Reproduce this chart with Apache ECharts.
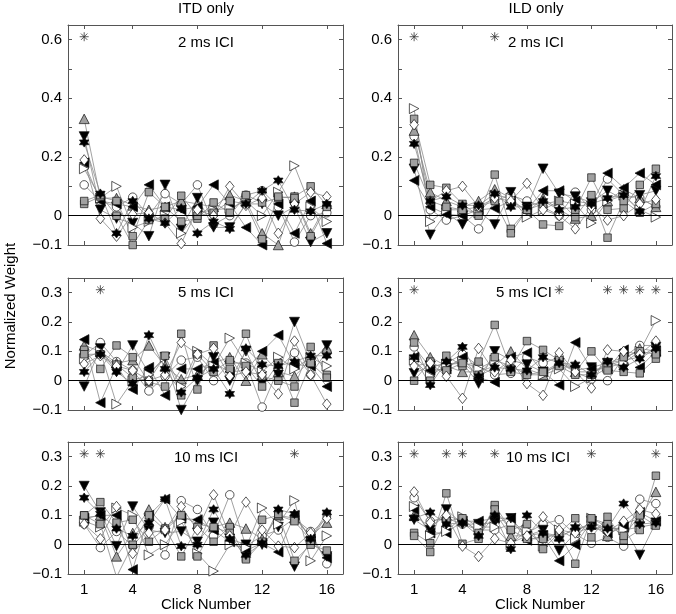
<!DOCTYPE html>
<html><head><meta charset="utf-8">
<script src="https://cdn.jsdelivr.net/npm/echarts@6/dist/echarts.min.js"></script>
<style>html,body{margin:0;padding:0;background:#fff}#c{width:676px;height:614px}</style>
</head><body><div id="c"></div>
<script>
// ---------- data ----------
const clicks = [1,2,3,4,5,6,7,8,9,10,11,12,13,14,15,16];
const xTicks = [1,4,8,12,16];
const yTicksTop = [-0.1,0,0.1,0.2,0.3,0.4,0.5,0.6];
const yLabelsTop = [-0.1,0,0.2,0.4,0.6];
const yTicksLow = [-0.1,0,0.1,0.2,0.3];
const columnTitles = ['ITD only','ILD only'];
const panelLabels = ['2 ms ICI','2 ms ICI','5 ms ICI','5 ms ICI','10 ms ICI','10 ms ICI'];
// listener order: circle, tri-up, tri-down, tri-left, tri-right, square1, square2, diamond, hexagram
const listeners = ['C','U','D','L','R','S1','S2','M','H'];

const itd2 = [
 [.105,.05,.03,.063,.0,.075,.04,.105,-.03,.0,.07,.085,.03,-.09,.0,.01],
 [.33,.06,.06,.035,.02,.03,.05,.04,.03,.07,.05,-.06,-.1,.065,-.06,.04],
 [.27,.02,-.01,-.025,-.07,.105,-.045,.06,-.04,-.04,.04,.04,.0,.03,-.09,-.06],
 [.18,.05,.04,.03,.105,.03,.02,.03,.105,.04,-.04,-.1,.04,-.06,.05,-.095],
 [.16,.06,.1,-.04,-.02,.0,-.06,.01,.02,.025,.05,.0,.08,.17,.03,-.02],
 [.04,.065,.05,-.07,.08,.03,-.02,-.01,.045,.01,.07,.045,.06,.065,.1,.035],
 [.05,.07,.0,-.1,-.015,-.01,.068,.0,.01,.05,.04,-.08,.065,.06,-.07,.03],
 [.19,-.01,-.07,.005,.01,-.025,-.095,.02,.0,.1,.035,.06,-.06,.04,.08,.065],
 [.25,.075,-.06,.05,-.01,-.025,.025,-.06,-.02,-.045,.04,.085,.12,.02,.015,.04]
];
const ild2 = [
 [.27,.02,-.015,.0,-.045,.05,.07,.05,.03,.0,.08,.02,.125,.07,.06,.03],
 [.29,.08,.05,.03,.05,.09,.06,.01,.06,.02,-.01,.0,.05,.09,.06,.03],
 [.16,-.065,.01,-.03,.015,-.03,.08,.03,.16,.075,.065,.045,.085,.055,.07,.085],
 [.12,.03,.005,.0,.02,.025,.05,.02,.085,.085,.05,.04,.145,.095,.145,.105],
 [.365,-.02,.02,.02,.01,.07,.06,-.005,.02,.05,.04,-.025,.05,.07,.02,-.005],
 [.33,.105,.095,.04,.0,.14,-.045,.02,-.03,-.035,.02,.13,.02,.025,.105,.16],
 [.18,.05,.03,.02,.03,.05,-.06,.02,.04,.05,-.005,.07,-.075,.05,.01,.04],
 [.31,.05,.085,.1,.03,.06,.05,.11,.02,.0,-.045,.03,-.015,.0,.04,.055],
 [.245,.05,.065,.035,.035,.075,.03,.03,.05,.02,.03,.04,.06,.07,.015,.135]
];
const itd5 = [
 [.085,.13,.065,.035,-.035,.015,.07,.08,.0,.06,.06,-.09,.04,.095,.02,.1],
 [.12,.1,.06,.07,.12,.05,.005,.02,.06,.08,.0,.09,.03,.015,.07,.11],
 [-.02,.11,.03,.12,.025,.08,-.1,.0,.08,.0,.1,-.01,.02,.2,.06,.12],
 [.14,-.075,.05,-.03,.045,-.05,.04,.04,.06,.03,.035,.1,.155,.055,.05,-.02],
 [.075,.1,-.08,.0,.02,.08,-.02,.1,.05,.145,.06,.03,.08,.04,.08,.05],
 [.105,.04,.12,.08,-.005,-.02,.16,-.03,.12,.04,.16,.015,.0,-.02,.115,.02],
 [.09,.09,.055,.01,.0,.085,-.05,.09,.03,.07,.05,-.02,.06,-.075,.06,.01],
 [.057,.085,.05,.035,.0,.02,.13,.09,.11,.015,.03,.02,-.045,.135,.02,-.08],
 [.03,.09,.03,-.01,.155,.04,-.04,.01,.04,-.045,.11,.055,.05,.065,.085,.085]
];
const ild5 = [
 [.115,.045,.06,.09,.05,.02,.025,.08,.06,.08,.03,.005,.0,.08,.12,.12],
 [.155,.08,.05,.03,.03,.05,.1,.04,.02,.06,.03,.03,.05,.07,.11,.1],
 [.025,.05,.055,.06,-.01,.1,.07,.055,.03,.06,.035,.045,.06,.07,.08,.115],
 [.08,.035,.04,.08,.01,-.005,.08,.095,.03,-.015,.13,.04,.04,.105,.045,.1],
 [.07,.015,.055,.065,.04,.07,.05,.02,.02,.04,-.02,.01,.045,.06,.1,.205],
 [.13,.0,.085,.05,.065,.19,.04,.135,.105,.07,.03,.1,.035,.03,.025,.075],
 [.0,.065,.035,.06,.02,.08,.03,.02,.03,.05,.02,.02,.06,.08,.1,.09],
 [.05,.06,.015,-.06,.11,.03,.07,-.01,-.05,.095,.03,-.025,.105,.1,.09,.135],
 [.08,-.015,.065,.115,.015,.045,.04,.035,.08,.06,.055,.02,.065,.045,.075,.11]
];
const itd10 = [
 [.07,-.01,.045,-.005,.06,-.035,.15,.12,.03,.17,-.005,.03,.05,.09,.045,-.065],
 [.09,.1,-.04,.04,.12,.06,.1,.07,.06,.075,.055,.02,.1,.09,.03,.075],
 [.2,.11,-.005,.13,.05,.04,.045,.01,.075,.02,.0,.0,.06,-.075,.01,-.04],
 [.09,.1,.1,-.085,.1,.155,.09,.085,.05,.01,-.02,.005,-.025,.1,.02,-.045],
 [.08,.06,.125,.1,-.035,.0,.08,-.03,-.09,.0,-.01,.125,.07,.15,-.055,.03],
 [.1,.145,.075,.085,.01,.055,-.04,.06,.01,.06,-.045,.085,.1,.08,.015,.1],
 [.1,.07,-.11,.0,.1,.05,.1,-.04,.06,.04,-.05,.01,.105,-.055,.0,-.02],
 [.07,.02,.13,-.03,.04,.05,.13,.05,.17,.03,.145,.05,-.005,-.01,.04,.09],
 [.16,.105,.055,.03,.075,.155,-.005,.0,.12,.02,-.035,.005,.12,.105,.02,.11]
];
const ild10 = [
 [.16,.08,.09,.07,.05,.05,.07,.04,.07,.085,.035,.005,.025,-.005,.155,.14],
 [.1,.06,.1,.08,.05,.11,.03,.03,.04,.03,.05,.07,.03,.07,.09,.18],
 [.085,.05,.12,.07,.07,.075,.09,.03,.05,-.02,.04,.08,.05,.06,-.035,.075],
 [.12,.04,.04,.08,.08,.09,.09,.015,.03,-.055,.0,.08,.04,.06,.11,.08],
 [.13,.03,.045,.095,.06,.06,.0,.05,-.005,.05,.02,.09,.06,.05,.06,.07],
 [.04,.005,.175,.003,.02,.135,.05,.07,-.015,.04,.09,.025,.095,.015,.05,.235],
 [.03,-.025,.08,.09,.04,.12,.05,.02,.02,.04,-.065,.09,.07,.03,.1,.065],
 [.18,.075,.1,-.005,-.04,.02,.005,.03,.095,.05,.04,.06,.045,.08,.12,.105],
 [.09,.11,.07,.075,.03,.1,-.015,.1,.04,.02,.06,.06,.055,.14,.07,.075]
];
// significant clicks (asterisks)
const starsItd2 = [1], starsIld2 = [1,6];
const starsItd5 = [2], starsIld5 = [1,10,13,14,15,16];
const starsItd10 = [1,2,14], starsIld10 = [1,3,4,6,12,16];
const starLevel = [0.61,0.61,0.31,0.31,0.31,0.31];

const panelData = [itd2, ild2, itd5, ild5, itd10, ild10];
const panelStars = [starsItd2, starsIld2, starsItd5, starsIld5, starsItd10, starsIld10];

// ---------- styles ----------
const FONT = '"Liberation Sans", Arial, Helvetica, sans-serif';
function hexagram(){
  const p=[];
  for(let i=0;i<12;i++){const r=i%2===0?10:5.77;const a=-Math.PI/2+i*Math.PI/6;p.push((r*Math.cos(a)).toFixed(2)+','+(r*Math.sin(a)).toFixed(2));}
  return 'path://M'+p.join('L')+'Z';
}
const asterisk = 'path://M0,-10L0,10M-10,0L10,0M-7.07,-7.07L7.07,7.07M-7.07,7.07L7.07,-7.07';
const markerStyle = {
  C:{symbol:'circle',size:8.5,fill:'#fff',rot:0},
  U:{symbol:'triangle',size:[10,9.5],fill:'#a0a0a0',rot:0},
  D:{symbol:'triangle',size:[10,9.5],fill:'#000',rot:180},
  L:{symbol:'triangle',size:[10,9.5],fill:'#000',rot:90},
  R:{symbol:'triangle',size:[10,9.5],fill:'#fff',rot:-90},
  S1:{symbol:'rect',size:7.5,fill:'#a0a0a0',rot:0},
  S2:{symbol:'rect',size:7.5,fill:'#a0a0a0',rot:0},
  M:{symbol:'diamond',size:[8.5,10.5],fill:'#fff',rot:0},
  H:{symbol:hexagram(),size:9.5,fill:'#000',rot:0}
};
const gridPos = [
  {left:68,top:25,width:275,height:220},{left:398,top:25,width:274,height:220},
  {left:68,top:278,width:275,height:132},{left:398,top:278,width:274,height:132},
  {left:68,top:442,width:275,height:132},{left:398,top:442,width:274,height:132}
];
const fmt = v => v < 0 ? '\u2212' + Math.abs(v) : String(v);
const axisCol = '#555';

const grid=[], xAxis=[], yAxis=[], series=[];
gridPos.forEach((g,i)=>{
  grid.push(Object.assign({containLabel:false},g));
  const isTop = i<2, isBottom = i>=4;
  const baseX = {type:'value',gridIndex:i,min:0,max:17,splitLine:{show:false},
    axisLine:{show:true,onZero:false,lineStyle:{color:axisCol,width:1}},
    axisTick:{show:true,inside:true,length:4,customValues:xTicks,lineStyle:{color:axisCol}}};
  xAxis.push(Object.assign({},baseX,{position:'bottom',
    axisLabel:{show:isBottom,customValues:xTicks,color:'#000',fontSize:15,fontFamily:FONT,margin:8}}));
  xAxis.push(Object.assign({},baseX,{position:'top',axisLabel:{show:false}}));
  const yMax = isTop?0.65:0.35;
  const yt = isTop?yTicksTop:yTicksLow;
  const yl = isTop?yLabelsTop:yTicksLow;
  const baseY = {type:'value',gridIndex:i,min:-0.1,max:yMax,splitLine:{show:false},
    axisLine:{show:true,onZero:false,lineStyle:{color:axisCol,width:1}},
    axisTick:{show:true,inside:true,length:4,customValues:yt,lineStyle:{color:axisCol}}};
  yAxis.push(Object.assign({},baseY,{position:'left',
    axisLabel:{show:true,customValues:yl,formatter:fmt,color:'#000',fontSize:15,fontFamily:FONT,margin:6}}));
  yAxis.push(Object.assign({},baseY,{position:'right',axisLabel:{show:false}}));

  const rows = panelData[i];
  rows.forEach((row,k)=>{
    const ms = markerStyle[listeners[k]];
    const s = {type:'line',xAxisIndex:2*i,yAxisIndex:2*i,
      data:clicks.map((c,j)=>[c,row[j]]),
      symbol:ms.symbol,symbolSize:ms.size,symbolRotate:ms.rot,showAllSymbol:true,
      lineStyle:{color:'#8a8a8a',width:0.8},
      itemStyle:{color:ms.fill,borderColor:'#111',borderWidth:0.7},
      emphasis:{disabled:true},clip:true,z:3};
    if(k===0){
      s.markLine={silent:true,symbol:['none','none'],label:{show:false},
        lineStyle:{color:'#000',width:1,type:'solid'},data:[{yAxis:0}],animation:false};
    }
    series.push(s);
  });
  series.push({type:'scatter',xAxisIndex:2*i,yAxisIndex:2*i,
    data:panelStars[i].map(c=>[c,starLevel[i]]),
    symbol:asterisk,symbolSize:9,
    itemStyle:{color:'rgba(0,0,0,0)',borderColor:'#333',borderWidth:1},z:4});
});

const labelPos = [[206,43],[536,43],[206,293],[524,293],[206,458],[538,458]];
const graphic = [];
columnTitles.forEach((t,i)=>graphic.push({type:'text',x:[206,536][i],y:9,
  style:{text:t,fontSize:15,fontFamily:FONT,fill:'#000',align:'center',verticalAlign:'middle'}}));
panelLabels.forEach((t,i)=>graphic.push({type:'text',x:labelPos[i][0],y:labelPos[i][1],
  style:{text:t,fontSize:15,fontFamily:FONT,fill:'#000',align:'center',verticalAlign:'middle'}}));
[206,540].forEach(x=>graphic.push({type:'text',x:x,y:605,
  style:{text:'Click Number',fontSize:15,fontFamily:FONT,fill:'#000',align:'center',verticalAlign:'middle'}}));
graphic.push({type:'text',x:11,y:306,rotation:Math.PI/2,
  style:{text:'Normalized Weight',fontSize:15,fontFamily:FONT,fill:'#000',align:'center',verticalAlign:'middle'}});

const chart = echarts.init(document.getElementById('c'),null,{renderer:'canvas'});
chart.setOption({animation:false,backgroundColor:'#fff',grid,xAxis,yAxis,series,graphic});
</script></body></html>
